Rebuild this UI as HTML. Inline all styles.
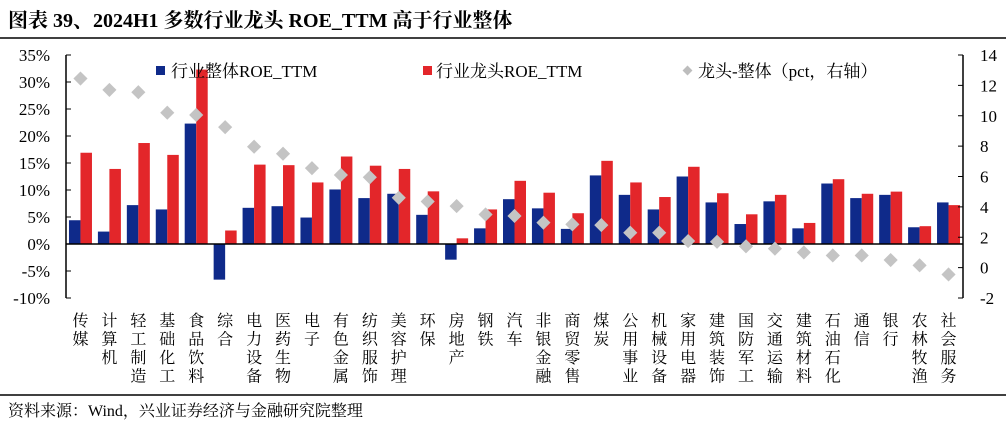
<!DOCTYPE html>
<html><head><meta charset="utf-8"><style>
body{margin:0;background:#fff;}
svg{display:block;font-family:"Liberation Serif","Noto Serif CJK SC",serif;}
</style></head><body>
<svg id="chart" width="1006" height="421" viewBox="0 0 1006 421" xmlns="http://www.w3.org/2000/svg">
<text x="8" y="27" font-size="20" font-weight="bold" fill="#000">图表 39、2024H1 多数行业龙头 ROE_TTM 高于行业整体</text>
<line x1="0" y1="38" x2="1006" y2="38" stroke="#000" stroke-width="1.5"/>
<line x1="0" y1="395" x2="1006" y2="395" stroke="#000" stroke-width="1.5"/>
<text x="8" y="416" font-size="16" fill="#000">资料来源：Wind，兴业证券经济与金融研究院整理</text>
<g id="plot"></g>
<g>
<rect x="156" y="66" width="9" height="9" fill="#0f2a8a"/>
<text x="171" y="77" font-size="17">行业整体ROE_TTM</text>
<rect x="423" y="66" width="9" height="9" fill="#e3262a"/>
<text x="436" y="77" font-size="17">行业龙头ROE_TTM</text>
<rect x="684" y="67" width="7" height="7" fill="#bdbdbd" transform="rotate(45 687.5 70.5)"/>
<text x="698" y="77" font-size="17">龙头-整体（pct，右轴）</text>
</g>
</svg>
<script>
const categories=["传媒","计算机","轻工制造","基础化工","食品饮料","综合","电力设备","医药生物","电子","有色金属","纺织服饰","美容护理","环保","房地产","钢铁","汽车","非银金融","商贸零售","煤炭","公用事业","机械设备","家用电器","建筑装饰","国防军工","交通运输","建筑材料","石油石化","通信","银行","农林牧渔","社会服务"];
const overallROE=[4.4,2.3,7.2,6.4,22.3,-6.6,6.7,7.0,4.9,10.1,8.5,9.3,5.4,-2.9,2.9,8.3,6.6,2.8,12.7,9.1,6.4,12.5,7.7,3.7,7.9,2.9,11.2,8.5,9.1,3.1,7.7];
const leaderROE=[16.9,13.9,18.7,16.5,32.3,2.5,14.7,14.6,11.4,16.2,14.5,13.9,9.75,1.05,6.4,11.7,9.5,5.7,15.4,11.4,8.7,14.3,9.4,5.5,9.1,3.9,12.0,9.3,9.7,3.3,7.2];
const diffPct=[12.45,11.7,11.55,10.2,10.05,9.25,7.96,7.5,6.55,6.1,5.95,4.6,4.35,4.05,3.5,3.4,2.96,2.85,2.8,2.3,2.3,1.75,1.7,1.4,1.25,1.0,0.8,0.8,0.5,0.15,-0.45];
const leftTicks=[-10,-5,0,5,10,15,20,25,30,35];
const rightTicks=[-2,0,2,4,6,8,10,12,14];

const NS="http://www.w3.org/2000/svg";
const g=document.getElementById('plot');
const X0=66,X1=963,Ytop=55,Ybot=298;
const yL=v=>Ybot-(v+10)/45*(Ybot-Ytop);
const yR=v=>Ybot-(v+2)/16*(Ybot-Ytop);
const band=(X1-X0)/categories.length;
const xC=i=>X0+band*(i+0.5);
function mk(tag,attrs){const e=document.createElementNS(NS,tag);for(const k in attrs)e.setAttribute(k,attrs[k]);g.appendChild(e);return e;}
const bw=11.5;
categories.forEach((c,i)=>{
  const cx=xC(i);
  let v=overallROE[i];
  let b=mk('rect',{x:cx-bw,y:Math.min(yL(v),yL(0)),width:bw,height:Math.abs(yL(v)-yL(0)),fill:'#0f2a8a'});
  
  
  v=leaderROE[i];
  b=mk('rect',{x:cx,y:Math.min(yL(v),yL(0)),width:bw,height:Math.abs(yL(v)-yL(0)),fill:'#e3262a'});
  
  
});
let z=mk('line',{x1:X0,y1:yL(0),x2:X1,y2:yL(0),stroke:'#000','stroke-width':1.5});


categories.forEach((c,i)=>{
  const cx=xC(i),cy=yR(diffPct[i]);
  const d=mk('rect',{x:cx-5,y:cy-5,width:10,height:10,fill:'#c4c4c4',transform:`rotate(45 ${cx} ${cy})`});
  
  
  const t=mk('text',{x:cx,'font-size':16,'text-anchor':'middle',fill:'#000'});
  
  
  [...c].forEach((ch,k)=>{const s=document.createElementNS(NS,'tspan');s.setAttribute('x',cx);s.setAttribute('y',326+k*18.5);s.textContent=ch;t.appendChild(s);});
});
let a=mk('line',{x1:X0,y1:Ytop,x2:X0,y2:Ybot,stroke:'#000','stroke-width':1.5});


a=mk('line',{x1:X1,y1:Ytop,x2:X1,y2:Ybot,stroke:'#000','stroke-width':1.5});


leftTicks.forEach(v=>{
  const y=yL(v);
  const l=mk('line',{x1:X0,y1:y,x2:X0+5,y2:y,stroke:'#000'});
  
  
  const t=mk('text',{x:X0-16,y:y+6,'font-size':17,'text-anchor':'end'});
  t.textContent=v+'%';
  
  
});
rightTicks.forEach(v=>{
  const y=yR(v);
  const l=mk('line',{x1:X1-5,y1:y,x2:X1,y2:y,stroke:'#000'});
  
  
  const t=mk('text',{x:X1+17,y:y+6,'font-size':17,'text-anchor':'start'});
  t.textContent=v;
  
  
});
</script>
</body></html>
